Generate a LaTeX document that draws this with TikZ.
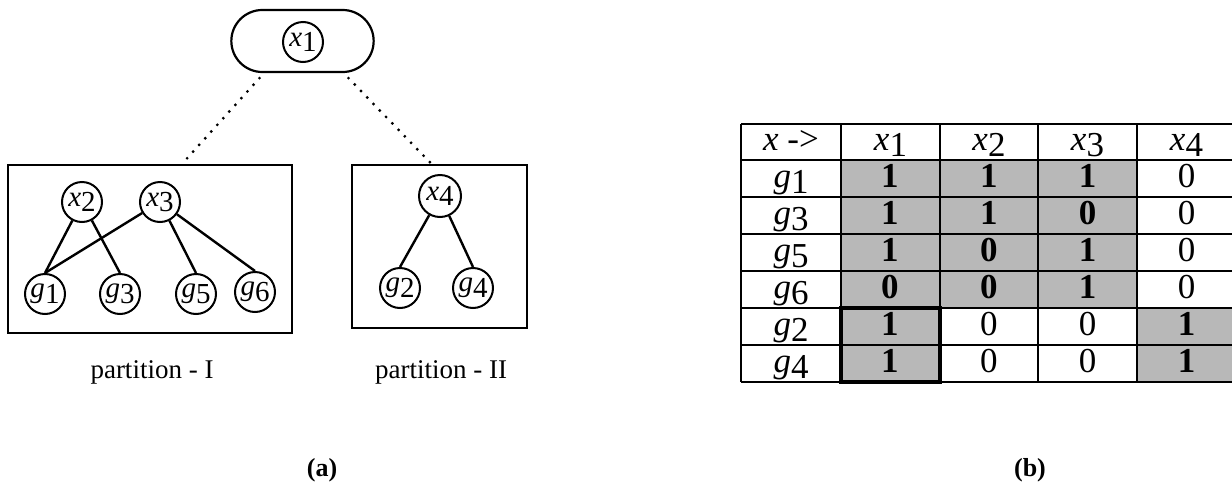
\documentclass[tikz,border=0pt]{standalone}
\usepackage{fontspec}
\setmainfont{Liberation Serif}
\usetikzlibrary{shapes.misc}
% variable with a lowered index, e.g. x_1, g_3
\newcommand{\sv}[2]{\textit{#1}\raisebox{-0.4ex}{#2}}
\newcommand{\B}[1]{\textbf{#1}}
\begin{document}
\begin{tikzpicture}[x=1pt,y=-1pt,
  vnode/.style={circle,draw,line width=2pt,minimum size=40pt,inner sep=0pt,font=\fontsize{29}{29}\selectfont},
  edge/.style={line width=2.4pt},
  pbox/.style={draw,line width=2.2pt,inner sep=0pt},
  dotline/.style={line width=3.2pt,dash pattern=on 0pt off 9pt,line cap=round},
  lbl/.style={font=\fontsize{27}{27}\selectfont},
  capt/.style={font=\bfseries\fontsize{26}{26}\selectfont},
  cell/.style={font=\fontsize{35}{35}\selectfont,inner sep=0pt,text height=23pt,text depth=6pt},
  shade/.style={fill=black!28},
  grid/.style={line width=2.2pt}]
\useasboundingbox (0,0) rectangle (1232,496);

% ---------- (a) partition tree ----------
\node[draw,line width=2.2pt,rounded rectangle,minimum width=149pt,minimum height=62pt] (pill) at (302.5,41) {};
\node[vnode] (x1) at (303,42) {\sv{x}{1}};

\node[pbox,minimum width=284pt,minimum height=168pt] (lbox) at (150,249) {};
\node[pbox,minimum width=175pt,minimum height=163pt] (rbox) at (439.5,246.5) {};

\draw[dotline] ([xshift=-43pt,yshift=-5pt]pill.south) -- ([xshift=32pt]lbox.north);
\draw[dotline] ([xshift=46pt,yshift=-5pt]pill.south) -- ([xshift=-8pt]rbox.north);

\node[vnode] (x2) at (82,202) {\sv{x}{2}};
\node[vnode] (x3) at (160,202) {\sv{x}{3}};
\node[vnode] (g1) at (45,294) {\sv{g}{1}};
\node[vnode] (g3) at (120,294) {\sv{g}{3}};
\node[vnode] (g5) at (196,294) {\sv{g}{5}};
\node[vnode] (g6) at (255,292) {\sv{g}{6}};
\node[vnode,minimum size=42pt] (x4) at (440,196) {\sv{x}{4}};
\node[vnode] (g2) at (400,288) {\sv{g}{2}};
\node[vnode] (g4) at (473,288) {\sv{g}{4}};

\draw[edge] (x2) -- (g1.north);
\draw[edge] (x2) -- (g3.north);
\draw[edge] (x3) -- (g1.north);
\draw[edge] (x3) -- (g5.north);
\draw[edge] (x3) -- (g6.north);
\draw[edge] (x4) -- (g2.north);
\draw[edge] (x4) -- (g4.north);

\node[lbl] (p1) at (152,372) {partition - I};
\node[lbl] (p2) at (441,372) {partition - II};
\node[capt] (ca) at (322,470) {(a)};

% ---------- (b) incidence table ----------
\fill[shade] (841,160) rectangle (1137,308);
\fill[shade] (841,308) rectangle (940,382);
\fill[shade] (1137,308) rectangle (1236,382);
\foreach \y in {124,160,197,234,271,308,345,382}
  \draw[grid] (741,\y) -- (1236,\y);
\foreach \x in {741,841,940,1038,1137}
  \draw[grid] (\x,124) -- (\x,382);
\draw[line width=3.5pt] (841,308) rectangle (940,382);

\node[cell] (h0) at (791,142) {\textit{x} ->};
\foreach \c/\xc in {1/890.5,2/989,3/1087.5,4/1186.5}
  \node[cell] (h\c) at (\xc,142) {\sv{x}{\c}};
\foreach \g [count=\i] in {1,3,5,6,2,4}
  \node[cell] (r\i) at (791,141.5+37*\i) {\sv{g}{\g}};
\foreach \vals [count=\i] in {{\B1,\B1,\B1,0},{\B1,\B1,\B0,0},{\B1,\B0,\B1,0},{\B0,\B0,\B1,0},{\B1,0,0,\B1},{\B1,0,0,\B1}}
  \foreach \v [count=\j] in \vals
    \node[cell] (v\i-\j) at ({791+98.9*\j},141.5+37*\i) {\v};
\node[capt] (cb) at (1030,470) {(b)};
\end{tikzpicture}
\end{document}
